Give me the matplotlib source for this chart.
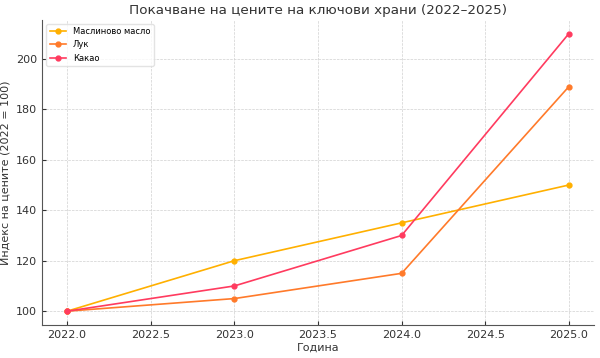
import matplotlib.pyplot as plt

# данни
years = [2022, 2023, 2024, 2025]
olive_oil = [100, 120, 135, 150]
onion = [100, 105, 115, 189]
cocoa = [100, 110, 130, 210]

plt.rcParams['font.family'] = ['DejaVu Sans']

fig, ax = plt.subplots(figsize=(6, 3.58), dpi=100)

ax.plot(years, olive_oil, marker='o', markersize=3.5, linewidth=1.2, color='#FFB000', label='Маслиново масло')
ax.plot(years, onion, marker='o', markersize=3.5, linewidth=1.2, color='#FF7A2A', label='Лук')
ax.plot(years, cocoa, marker='o', markersize=3.5, linewidth=1.2, color='#FF3B5F', label='Какао')

ax.set_title('Покачване на цените на ключови храни (2022–2025)', fontsize=9.7, color='#333333', pad=4)
ax.set_xlabel('Година', fontsize=8, color='#333333', labelpad=2)
ax.set_ylabel('Индекс на цените (2022 = 100)', fontsize=8, color='#333333')

ax.grid(True, linestyle='--', linewidth=0.5, color='#d0d0d0')
ax.spines['top'].set_visible(False)
ax.spines['right'].set_visible(False)
ax.spines['left'].set_color('#555555')
ax.spines['bottom'].set_color('#555555')
ax.tick_params(direction='in', labelsize=8, colors='#333333', length=3)

ax.legend(loc='upper left', fontsize=6, frameon=True, edgecolor='#dddddd')

plt.subplots_adjust(left=0.07, right=0.99, top=0.945, bottom=0.092)
plt.savefig('out.png', dpi=100)
